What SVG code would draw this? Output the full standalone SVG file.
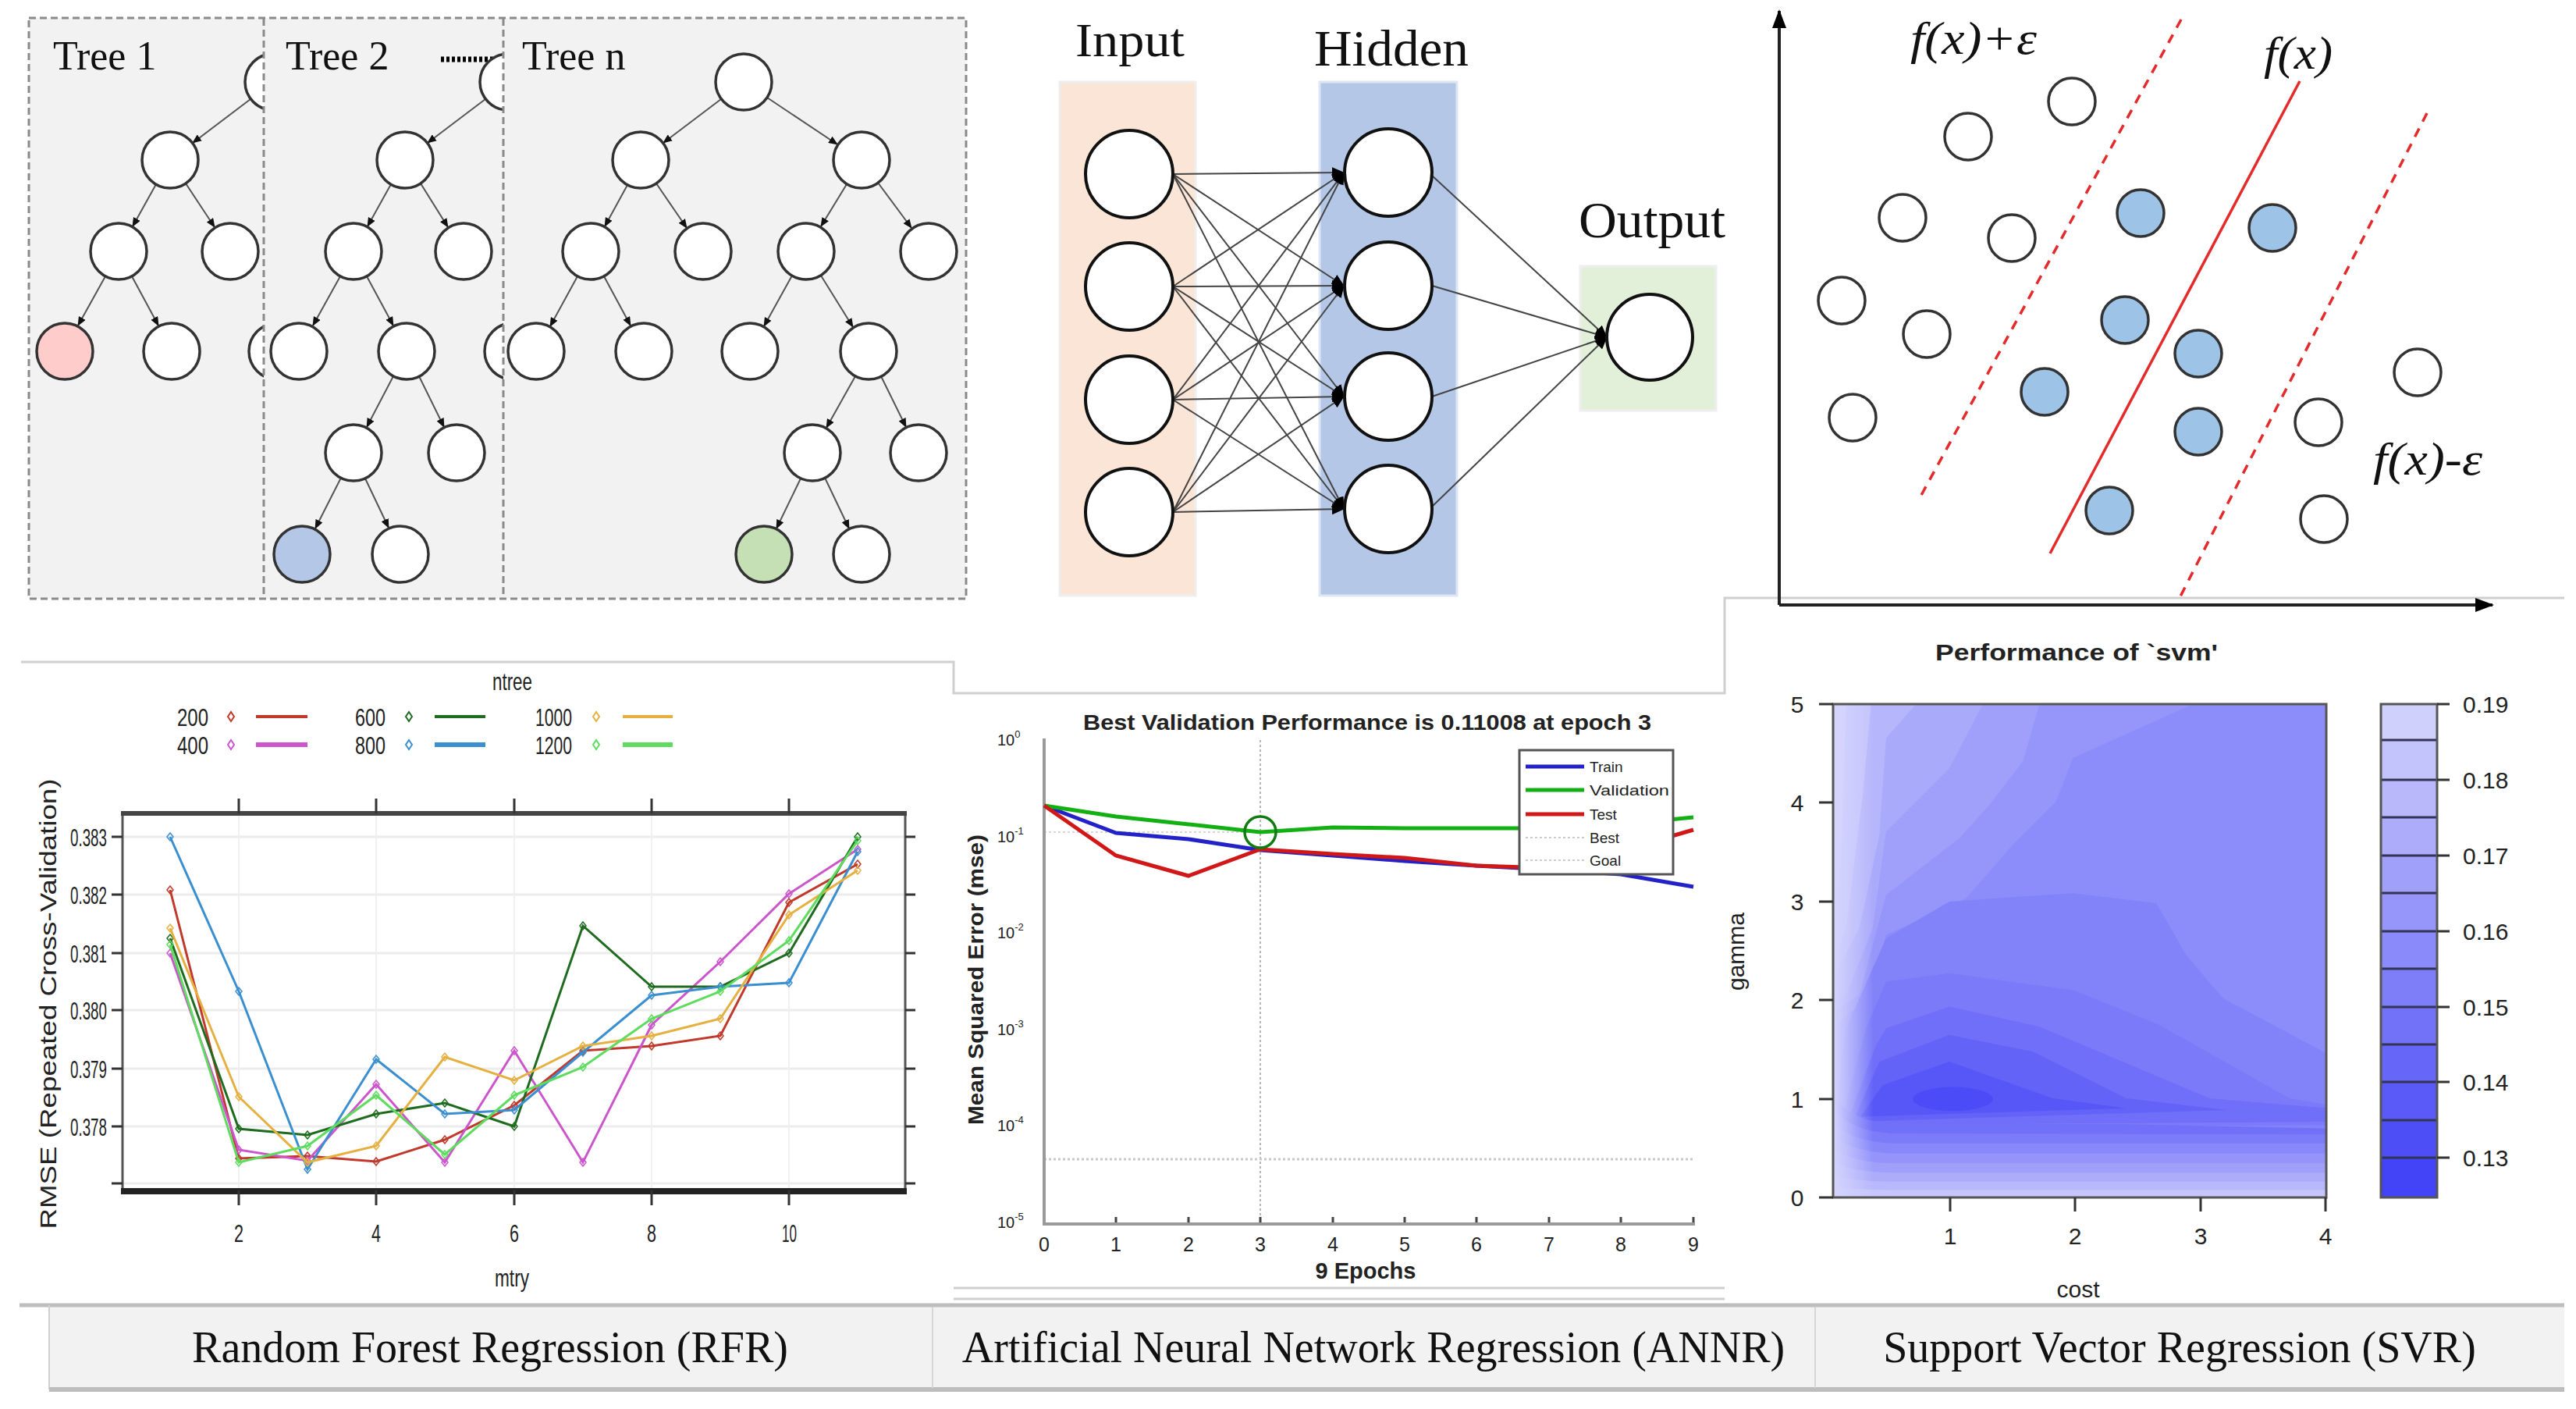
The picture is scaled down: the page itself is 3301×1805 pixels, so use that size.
<svg xmlns="http://www.w3.org/2000/svg" width="3301" height="1805" viewBox="0 0 3301 1805">
<style>
.serif{font-family:"Liberation Serif","Times New Roman",serif;fill:#111}
.sans{font-family:"Liberation Sans",Arial,sans-serif;fill:#222}
.tn{fill:#fff;stroke:#333;stroke-width:3.5}
.te{stroke:#555;stroke-width:2;fill:none;marker-end:url(#ahs)}
.ae{stroke:#444;stroke-width:2;fill:none;marker-end:url(#ah)}
.an{fill:#fff;stroke:#111;stroke-width:4}
.sc{fill:#fff;stroke:#333;stroke-width:3.5}
.sb{fill:#9dc3e6;stroke:#333;stroke-width:3.5}
.frame{stroke:#cfcfcf;stroke-width:3;fill:none}
.grid{stroke:#ececec;stroke-width:3}
.rf{fill:none;stroke-width:3}
.tick{stroke:#333;stroke-width:3}
</style>
<defs>
<marker id="ah" markerUnits="userSpaceOnUse" markerWidth="16" markerHeight="14" refX="15" refY="7" orient="auto"><path d="M0,0 L16,7 L0,14 z" fill="#000"/></marker>
<marker id="ahs" markerUnits="userSpaceOnUse" markerWidth="12" markerHeight="10" refX="11" refY="5" orient="auto"><path d="M0,0 L12,5 L0,10 z" fill="#111"/></marker>
<marker id="axa" markerUnits="userSpaceOnUse" markerWidth="24" markerHeight="18" refX="22" refY="9" orient="auto"><path d="M0,0 L24,9 L0,18 z" fill="#000"/></marker>
<marker id="m1" markerUnits="userSpaceOnUse" markerWidth="10" markerHeight="12" refX="5" refY="6"><path d="M5,1 L9,6 L5,11 L1,6 z" fill="none" stroke="#c0392b" stroke-width="1.5"/></marker>
<marker id="m2" markerUnits="userSpaceOnUse" markerWidth="10" markerHeight="12" refX="5" refY="6"><path d="M5,1 L9,6 L5,11 L1,6 z" fill="none" stroke="#cc55cc" stroke-width="1.5"/></marker>
<marker id="m3" markerUnits="userSpaceOnUse" markerWidth="10" markerHeight="12" refX="5" refY="6"><path d="M5,1 L9,6 L5,11 L1,6 z" fill="none" stroke="#1f6b1f" stroke-width="1.5"/></marker>
<marker id="m4" markerUnits="userSpaceOnUse" markerWidth="10" markerHeight="12" refX="5" refY="6"><path d="M5,1 L9,6 L5,11 L1,6 z" fill="none" stroke="#3a8fd0" stroke-width="1.5"/></marker>
<marker id="m5" markerUnits="userSpaceOnUse" markerWidth="10" markerHeight="12" refX="5" refY="6"><path d="M5,1 L9,6 L5,11 L1,6 z" fill="none" stroke="#e6b040" stroke-width="1.5"/></marker>
<marker id="m6" markerUnits="userSpaceOnUse" markerWidth="10" markerHeight="12" refX="5" refY="6"><path d="M5,1 L9,6 L5,11 L1,6 z" fill="none" stroke="#5fdc5f" stroke-width="1.5"/></marker>
<clipPath id="c1"><rect x="37" y="23" width="301" height="744"/></clipPath>
<clipPath id="c2"><rect x="338" y="23" width="307" height="744"/></clipPath>
<clipPath id="cs"><rect x="2349" y="902" width="632" height="632"/></clipPath>
<linearGradient id="gl" x1="0" y1="0" x2="1" y2="0"><stop offset="0" stop-color="#d4d4fd"/><stop offset="1" stop-color="#d4d4fd" stop-opacity="0"/></linearGradient>
</defs>

<rect width="3301" height="1805" fill="#fff"/>

<!-- layout frame lines -->
<g id="layout">
<path class="frame" d="M27,848 H1222 V888 H2210 V766 H3286"/>
<path class="frame" d="M1222,1650 H2210 M1222,1664 H2210"/>
<rect x="63" y="1672" width="3223" height="108" fill="#f2f2f2"/>
<path d="M25,1672 H3286" stroke="#bdbdbd" stroke-width="5"/>
<path d="M63,1672 V1780" stroke="#d0d0d0" stroke-width="2"/>
<path d="M63,1780 H3286" stroke="#bdbdbd" stroke-width="6"/>
<path d="M1195,1674 V1778 M2326,1674 V1778" stroke="#d6d6d6" stroke-width="2"/>
</g>

<!-- ===== Random forest trees ===== -->
<g id="rf-trees">
<rect x="37" y="23" width="1201" height="744" fill="#f2f2f2"/>
<rect x="37" y="23" width="1201" height="744" fill="none" stroke="#8a8a8a" stroke-width="3" stroke-dasharray="9,5"/>
<text class="serif" x="68" y="89" font-size="52">Tree 1</text>
<text class="serif" x="366" y="89" font-size="52">Tree 2</text>
<text class="serif" x="669" y="89" font-size="52">Tree n</text>
<path d="M565,76 H645" stroke="#000" stroke-width="7" stroke-dasharray="4,3"/>
</g>

<g id="tree-edges">
<line class="te" x1="321" y1="127" x2="247" y2="183"/>
<line class="te" x1="200" y1="236" x2="170" y2="290"/>
<line class="te" x1="238" y1="235" x2="275" y2="291"/>
<line class="te" x1="135" y1="354" x2="100" y2="417"/>
<line class="te" x1="169" y1="354" x2="203" y2="417"/>
<line class="te" x1="622" y1="127" x2="548" y2="183"/>
<line class="te" x1="501" y1="236" x2="471" y2="290"/>
<line class="te" x1="539" y1="235" x2="574" y2="291"/>
<line class="te" x1="436" y1="354" x2="401" y2="417"/>
<line class="te" x1="470" y1="354" x2="504" y2="417"/>
<line class="te" x1="504" y1="482" x2="470" y2="547"/>
<line class="te" x1="537" y1="482" x2="569" y2="547"/>
<line class="te" x1="437" y1="612" x2="404" y2="677"/>
<line class="te" x1="468" y1="613" x2="498" y2="676"/>
<line class="te" x1="924" y1="127" x2="850" y2="183"/>
<line class="te" x1="983" y1="125" x2="1073" y2="185"/>
<line class="te" x1="804" y1="237" x2="775" y2="290"/>
<line class="te" x1="841" y1="235" x2="880" y2="292"/>
<line class="te" x1="1085" y1="236" x2="1052" y2="290"/>
<line class="te" x1="1125" y1="234" x2="1168" y2="292"/>
<line class="te" x1="740" y1="354" x2="705" y2="418"/>
<line class="te" x1="774" y1="354" x2="808" y2="417"/>
<line class="te" x1="1015" y1="353" x2="979" y2="418"/>
<line class="te" x1="1052" y1="353" x2="1093" y2="419"/>
<line class="te" x1="1096" y1="482" x2="1059" y2="548"/>
<line class="te" x1="1129" y1="482" x2="1161" y2="547"/>
<line class="te" x1="1026" y1="613" x2="995" y2="677"/>
<line class="te" x1="1057" y1="612" x2="1088" y2="677"/>
</g>

<g id="tree-nodes">
<g clip-path="url(#c1)"><circle class="tn" cx="350" cy="105" r="36"/><circle class="tn" cx="355" cy="450" r="36"/></g>
<g clip-path="url(#c2)"><circle class="tn" cx="651" cy="105" r="36"/><circle class="tn" cx="657" cy="450" r="36"/></g>
<circle class="tn" cx="218" cy="205" r="36"/>
<circle class="tn" cx="152" cy="322" r="36"/>
<circle class="tn" cx="295" cy="322" r="36"/>
<circle class="tn" cx="83" cy="450" r="36" style="fill:#ffcccc"/>
<circle class="tn" cx="220" cy="450" r="36"/>
<circle class="tn" cx="519" cy="205" r="36"/>
<circle class="tn" cx="453" cy="322" r="36"/>
<circle class="tn" cx="594" cy="322" r="36"/>
<circle class="tn" cx="383" cy="450" r="36"/>
<circle class="tn" cx="521" cy="450" r="36"/>
<circle class="tn" cx="453" cy="580" r="36"/>
<circle class="tn" cx="585" cy="580" r="36"/>
<circle class="tn" cx="387" cy="710" r="36" style="fill:#b4c7e7"/>
<circle class="tn" cx="513" cy="710" r="36"/>
<circle class="tn" cx="953" cy="105" r="36"/>
<circle class="tn" cx="821" cy="205" r="36"/>
<circle class="tn" cx="1104" cy="205" r="36"/>
<circle class="tn" cx="757" cy="322" r="36"/>
<circle class="tn" cx="901" cy="322" r="36"/>
<circle class="tn" cx="1033" cy="322" r="36"/>
<circle class="tn" cx="1190" cy="322" r="36"/>
<circle class="tn" cx="687" cy="450" r="36"/>
<circle class="tn" cx="825" cy="450" r="36"/>
<circle class="tn" cx="961" cy="450" r="36"/>
<circle class="tn" cx="1113" cy="450" r="36"/>
<circle class="tn" cx="1041" cy="580" r="36"/>
<circle class="tn" cx="1177" cy="580" r="36"/>
<circle class="tn" cx="979" cy="710" r="36" style="fill:#c5e0b4"/>
<circle class="tn" cx="1104" cy="710" r="36"/>
</g>
<path d="M338,24 V766 M645,24 V766" stroke="#8a8a8a" stroke-width="3" stroke-dasharray="9,5"/>

<!-- ===== ANN ===== -->
<g id="ann-layers">
<rect x="1358" y="105" width="174" height="658" fill="#fbe5d6" stroke="#eeeeee" stroke-width="3"/>
<rect x="1691" y="105" width="176" height="658" fill="#b4c7e7" stroke="#dde6f3" stroke-width="3"/>
<rect x="2025" y="341" width="174" height="185" fill="#e2f0d9" stroke="#eeeeee" stroke-width="3"/>
<text class="serif" x="1378" y="72" font-size="62" textLength="140" lengthAdjust="spacingAndGlyphs">Input</text>
<text class="serif" x="1684" y="84" font-size="66" textLength="198" lengthAdjust="spacingAndGlyphs">Hidden</text>
<text class="serif" x="2023" y="304" font-size="66" textLength="188" lengthAdjust="spacingAndGlyphs">Output</text>
</g>
<g id="ann-connectors">
<line class="ae" x1="1503" y1="223" x2="1722" y2="221"/>
<line class="ae" x1="1503" y1="223" x2="1722" y2="366"/>
<line class="ae" x1="1503" y1="223" x2="1722" y2="508"/>
<line class="ae" x1="1503" y1="223" x2="1722" y2="652"/>
<line class="ae" x1="1503" y1="367" x2="1722" y2="221"/>
<line class="ae" x1="1503" y1="367" x2="1722" y2="366"/>
<line class="ae" x1="1503" y1="367" x2="1722" y2="508"/>
<line class="ae" x1="1503" y1="367" x2="1722" y2="652"/>
<line class="ae" x1="1503" y1="512" x2="1722" y2="221"/>
<line class="ae" x1="1503" y1="512" x2="1722" y2="366"/>
<line class="ae" x1="1503" y1="512" x2="1722" y2="508"/>
<line class="ae" x1="1503" y1="512" x2="1722" y2="652"/>
<line class="ae" x1="1503" y1="656" x2="1722" y2="221"/>
<line class="ae" x1="1503" y1="656" x2="1722" y2="366"/>
<line class="ae" x1="1503" y1="656" x2="1722" y2="508"/>
<line class="ae" x1="1503" y1="656" x2="1722" y2="652"/>
<line class="ae" x1="1834" y1="224" x2="2059" y2="432"/>
<line class="ae" x1="1835" y1="366" x2="2059" y2="432"/>
<line class="ae" x1="1835" y1="508" x2="2059" y2="432"/>
<line class="ae" x1="1834" y1="650" x2="2059" y2="432"/>
</g>
<g id="ann-nodes">
<circle class="an" cx="1447" cy="223" r="56"/>
<circle class="an" cx="1447" cy="367" r="56"/>
<circle class="an" cx="1447" cy="512" r="56"/>
<circle class="an" cx="1447" cy="656" r="56"/>
<circle class="an" cx="1779" cy="221" r="56"/>
<circle class="an" cx="1779" cy="366" r="56"/>
<circle class="an" cx="1779" cy="508" r="56"/>
<circle class="an" cx="1779" cy="652" r="56"/>
<circle class="an" cx="2114" cy="432" r="55"/>
</g>

<!-- ===== SVR scatter ===== -->
<g id="svr-scatter">
<line x1="2280" y1="775" x2="2280" y2="14" stroke="#222" stroke-width="4" marker-end="url(#axa)"/>
<line x1="2280" y1="775" x2="3194" y2="775" stroke="#222" stroke-width="4" marker-end="url(#axa)"/>
<line x1="2947" y1="104" x2="2627" y2="709" stroke="#e32b2b" stroke-width="3.5"/>
<line x1="2795" y1="25" x2="2460" y2="638" stroke="#e32b2b" stroke-width="3.5" stroke-dasharray="12,10"/>
<line x1="3110" y1="145" x2="2794" y2="764" stroke="#e32b2b" stroke-width="3.5" stroke-dasharray="12,10"/>
<text class="serif" x="2448" y="69" font-size="60" font-style="italic" textLength="162" lengthAdjust="spacingAndGlyphs">f(x)+ε</text>
<text class="serif" x="2901" y="88" font-size="60" font-style="italic" textLength="88" lengthAdjust="spacingAndGlyphs">f(x)</text>
<text class="serif" x="3041" y="608" font-size="60" font-style="italic" textLength="140" lengthAdjust="spacingAndGlyphs">f(x)-ε</text>
<circle class="sc" cx="2655" cy="130" r="30"/>
<circle class="sc" cx="2522" cy="175" r="30"/>
<circle class="sc" cx="2438" cy="279" r="30"/>
<circle class="sc" cx="2578" cy="305" r="30"/>
<circle class="sc" cx="2360" cy="385" r="30"/>
<circle class="sc" cx="2469" cy="428" r="30"/>
<circle class="sc" cx="2374" cy="535" r="30"/>
<circle class="sc" cx="3098" cy="477" r="30"/>
<circle class="sc" cx="2971" cy="541" r="30"/>
<circle class="sc" cx="2978" cy="665" r="30"/>
<circle class="sb" cx="2743" cy="273" r="30"/>
<circle class="sb" cx="2912" cy="292" r="30"/>
<circle class="sb" cx="2723" cy="410" r="30"/>
<circle class="sb" cx="2817" cy="453" r="30"/>
<circle class="sb" cx="2620" cy="502" r="30"/>
<circle class="sb" cx="2817" cy="553" r="30"/>
<circle class="sb" cx="2703" cy="654" r="30"/>
</g>

<!-- ===== RF tuning chart ===== -->
<g id="rf-chart">
<text class="sans" x="631" y="884" font-size="32" textLength="51" lengthAdjust="spacingAndGlyphs">ntree</text>
<g font-size="32" class="sans">
<text x="227" y="930" textLength="40" lengthAdjust="spacingAndGlyphs">200</text>
<text x="227" y="966" textLength="40" lengthAdjust="spacingAndGlyphs">400</text>
<text x="455" y="930" textLength="39" lengthAdjust="spacingAndGlyphs">600</text>
<text x="455" y="966" textLength="39" lengthAdjust="spacingAndGlyphs">800</text>
<text x="686" y="930" textLength="47" lengthAdjust="spacingAndGlyphs">1000</text>
<text x="686" y="966" textLength="47" lengthAdjust="spacingAndGlyphs">1200</text>
</g>
<path d="M296,912 l4,6 l-4,6 l-4,-6 z" fill="none" stroke="#c0392b" stroke-width="2"/>
<path d="M296,948 l4,6 l-4,6 l-4,-6 z" fill="none" stroke="#cc55cc" stroke-width="2"/>
<path d="M524,912 l4,6 l-4,6 l-4,-6 z" fill="none" stroke="#1f6b1f" stroke-width="2"/>
<path d="M524,948 l4,6 l-4,6 l-4,-6 z" fill="none" stroke="#3a8fd0" stroke-width="2"/>
<path d="M764,912 l4,6 l-4,6 l-4,-6 z" fill="none" stroke="#e6b040" stroke-width="2"/>
<path d="M764,948 l4,6 l-4,6 l-4,-6 z" fill="none" stroke="#5fdc5f" stroke-width="2"/>
<path d="M328,918 H394" stroke="#c0392b" stroke-width="4"/>
<path d="M328,954 H394" stroke="#cc55cc" stroke-width="6"/>
<path d="M557,918 H622" stroke="#1f6b1f" stroke-width="4"/>
<path d="M557,954 H622" stroke="#3a8fd0" stroke-width="6"/>
<path d="M798,918 H862" stroke="#e6b040" stroke-width="4"/>
<path d="M798,954 H862" stroke="#5fdc5f" stroke-width="6"/>

<rect x="157" y="1042" width="1003" height="483" fill="#fff"/>
<path class="grid" d="M157,1072 H1160 M157,1146 H1160 M157,1221 H1160 M157,1294 H1160 M157,1369 H1160 M157,1443 H1160 M157,1516 H1160"/>
<path d="M306,1042 V1525 M482,1042 V1525 M659,1042 V1525 M835,1042 V1525 M1011,1042 V1525" stroke="#f0f0f0" stroke-width="2"/>
<polyline class="rf" stroke="#c0392b" marker-start="url(#m1)" marker-mid="url(#m1)" marker-end="url(#m1)" points="218,1140 306,1484 394,1481 482,1488 570,1460 659,1416 747,1346 835,1340 923,1327 1011,1156 1099,1107"/>
<polyline class="rf" stroke="#cc55cc" marker-start="url(#m2)" marker-mid="url(#m2)" marker-end="url(#m2)" points="218,1221 306,1473 394,1487 482,1389 570,1489 659,1346 747,1489 835,1313 923,1232 1011,1145 1099,1088"/>
<polyline class="rf" stroke="#1f6b1f" marker-start="url(#m3)" marker-mid="url(#m3)" marker-end="url(#m3)" points="218,1202 306,1446 394,1454 482,1427 570,1413 659,1443 747,1186 835,1264 923,1264 1011,1221 1099,1072"/>
<polyline class="rf" stroke="#3a8fd0" marker-start="url(#m4)" marker-mid="url(#m4)" marker-end="url(#m4)" points="218,1072 306,1270 394,1498 482,1357 570,1427 659,1422 747,1348 835,1275 923,1264 1011,1259 1099,1091"/>
<polyline class="rf" stroke="#e6b040" marker-start="url(#m5)" marker-mid="url(#m5)" marker-end="url(#m5)" points="218,1189 306,1405 394,1489 482,1468 570,1354 659,1384 747,1340 835,1327 923,1305 1011,1172 1099,1115"/>
<polyline class="rf" stroke="#5fdc5f" marker-start="url(#m6)" marker-mid="url(#m6)" marker-end="url(#m6)" points="218,1210 306,1489 394,1468 482,1403 570,1479 659,1403 747,1367 835,1305 923,1270 1011,1205 1099,1077"/>
<rect x="157" y="1042" width="1003" height="483" fill="none" stroke="#555" stroke-width="3"/>
<path d="M155,1042 H1162" stroke="#444" stroke-width="6"/>
<path d="M155,1526 H1162" stroke="#222" stroke-width="8"/>
<path class="tick" d="M306,1023 V1042 M482,1023 V1042 M659,1023 V1042 M835,1023 V1042 M1011,1023 V1042 M306,1525 V1544 M482,1525 V1544 M659,1525 V1544 M835,1525 V1544 M1011,1525 V1544"/>
<path class="tick" d="M143,1072 H157 M143,1146 H157 M143,1221 H157 M143,1294 H157 M143,1369 H157 M143,1443 H157 M143,1516 H157 M1160,1072 H1173 M1160,1146 H1173 M1160,1221 H1173 M1160,1294 H1173 M1160,1369 H1173 M1160,1443 H1173 M1160,1516 H1173"/>
<g class="sans" font-size="32">
<text x="90" y="1084" textLength="47" lengthAdjust="spacingAndGlyphs">0.383</text>
<text x="90" y="1158" textLength="47" lengthAdjust="spacingAndGlyphs">0.382</text>
<text x="90" y="1233" textLength="47" lengthAdjust="spacingAndGlyphs">0.381</text>
<text x="90" y="1306" textLength="47" lengthAdjust="spacingAndGlyphs">0.380</text>
<text x="90" y="1381" textLength="47" lengthAdjust="spacingAndGlyphs">0.379</text>
<text x="90" y="1455" textLength="47" lengthAdjust="spacingAndGlyphs">0.378</text>
<text x="300" y="1591" textLength="12" lengthAdjust="spacingAndGlyphs">2</text>
<text x="476" y="1591" textLength="12" lengthAdjust="spacingAndGlyphs">4</text>
<text x="653" y="1591" textLength="12" lengthAdjust="spacingAndGlyphs">6</text>
<text x="829" y="1591" textLength="12" lengthAdjust="spacingAndGlyphs">8</text>
<text x="1002" y="1591" textLength="19" lengthAdjust="spacingAndGlyphs">10</text>
<text x="634" y="1648" textLength="44" lengthAdjust="spacingAndGlyphs">mtry</text>
<text transform="translate(72,1286) rotate(-90)" text-anchor="middle" font-size="30" textLength="577" lengthAdjust="spacingAndGlyphs">RMSE (Repeated Cross-Validation)</text>
</g>
</g>

<!-- ===== ANN performance chart ===== -->
<g id="ann-chart">
<text class="sans" x="1752" y="935" font-size="27" font-weight="bold" text-anchor="middle" textLength="728" lengthAdjust="spacingAndGlyphs">Best Validation Performance is 0.11008 at epoch 3</text>
<path d="M1615,948 V1566" stroke="#b8b8b8" stroke-width="2" stroke-dasharray="3,3"/>
<path d="M1338,1066 H1615" stroke="#d6d6d6" stroke-width="2" stroke-dasharray="3,3"/>
<path d="M1338,1485 H2170" stroke="#c8c8c8" stroke-width="3" stroke-dasharray="3,3"/>
<path d="M1338,946 V1568 H2172" stroke="#9a9a9a" stroke-width="4" fill="none"/>
<path d="M1430,1566 v-7 M1523,1566 v-7 M1615,1566 v-7 M1708,1566 v-7 M1800,1566 v-7 M1892,1566 v-7 M1985,1566 v-7 M2077,1566 v-7 M2170,1566 v-7" stroke="#444" stroke-width="3"/>
<polyline fill="none" stroke="#2222c8" stroke-width="5" points="1338,1032 1430,1067 1523,1075 1615,1089 1708,1096 1800,1103 1892,1109 1985,1114 2077,1120 2170,1136"/>
<polyline fill="none" stroke="#12b012" stroke-width="5" points="1338,1032 1430,1046 1523,1056 1615,1066 1708,1060 1800,1061 1892,1061 1985,1061 2077,1056 2170,1047"/>
<polyline fill="none" stroke="#d01818" stroke-width="5" points="1338,1032 1430,1096 1523,1122 1615,1088 1708,1094 1800,1099 1892,1109 1985,1112 2077,1090 2170,1063"/>
<circle cx="1615" cy="1066" r="20" fill="none" stroke="#117a11" stroke-width="3.5"/>
<rect x="1947" y="961" width="197" height="159" fill="#fff" stroke="#555" stroke-width="3"/>
<path d="M1955,982 H2030" stroke="#2222c8" stroke-width="5"/>
<path d="M1955,1012 H2030" stroke="#12b012" stroke-width="5"/>
<path d="M1955,1043 H2030" stroke="#d01818" stroke-width="5"/>
<path d="M1955,1073 H2030" stroke="#cccccc" stroke-width="2" stroke-dasharray="3,3"/>
<path d="M1955,1102 H2030" stroke="#cccccc" stroke-width="2" stroke-dasharray="3,3"/>
<g class="sans" font-size="19">
<text x="2037" y="989">Train</text>
<text x="2037" y="1019" textLength="102" lengthAdjust="spacingAndGlyphs">Validation</text>
<text x="2037" y="1050">Test</text>
<text x="2037" y="1080">Best</text>
<text x="2037" y="1109">Goal</text>
</g>
<g class="sans" font-size="20">
<text x="1278" y="955">10<tspan font-size="13" dy="-10">0</tspan></text>
<text x="1278" y="1079">10<tspan font-size="13" dy="-10">-1</tspan></text>
<text x="1278" y="1202">10<tspan font-size="13" dy="-10">-2</tspan></text>
<text x="1278" y="1326">10<tspan font-size="13" dy="-10">-3</tspan></text>
<text x="1278" y="1449">10<tspan font-size="13" dy="-10">-4</tspan></text>
<text x="1278" y="1573">10<tspan font-size="13" dy="-10">-5</tspan></text>
</g>
<g class="sans" font-size="25" text-anchor="middle">
<text x="1338" y="1603">0</text><text x="1430" y="1603">1</text><text x="1523" y="1603">2</text><text x="1615" y="1603">3</text><text x="1708" y="1603">4</text><text x="1800" y="1603">5</text><text x="1892" y="1603">6</text><text x="1985" y="1603">7</text><text x="2077" y="1603">8</text><text x="2170" y="1603">9</text>
</g>
<text class="sans" x="1750" y="1638" font-size="29" font-weight="bold" text-anchor="middle">9 Epochs</text>
<text class="sans" transform="translate(1260,1255) rotate(-90)" font-size="27" font-weight="bold" text-anchor="middle" textLength="372" lengthAdjust="spacingAndGlyphs">Mean Squared Error  (mse)</text>
</g>

<!-- ===== SVM performance contour ===== -->
<g id="svm-chart">
<text class="sans" x="2661" y="846" font-size="30" font-weight="bold" text-anchor="middle" textLength="362" lengthAdjust="spacingAndGlyphs">Performance of `svm'</text>
<g clip-path="url(#cs)">
<rect x="2349" y="902" width="632" height="632" fill="#8c8cfa"/>
<g transform="matrix(0.4273 0 0 0.4273 2340 890)">
<path fill="#9696fa" d="M22,28 L1100,28 L740,190 L690,320 L560,450 L420,610 L180,720 L130,900 L22,1000 Z"/>
<path fill="#a0a0fb" d="M22,28 L640,28 L590,200 L490,330 L400,430 L180,600 L100,900 L22,950 Z"/>
<path fill="#aaaafb" d="M22,28 L470,28 L370,220 L180,410 L140,700 L60,900 L22,920 Z"/>
<path fill="#b6b6fc" d="M22,28 L270,28 L180,130 L160,420 L100,700 L22,850 Z"/>
<path fill="#c4c4fc" d="M22,28 L135,28 L110,300 L60,700 L22,800 Z"/>
<path fill="#d0d0fd" d="M22,28 L60,28 L45,500 L22,700 Z"/>
<path fill="#8383f9" d="M22,1300 L60,1000 L180,730 L370,620 L740,595 L990,625 L1080,780 L1190,910 L1510,1080 L1510,1300 Z"/>
<path fill="#7b7bf9" d="M40,1300 L120,1000 L180,860 L370,835 L740,885 L1000,990 L1390,1210 L1510,1230 L1510,1290 Z"/>
<path fill="#6f6ff9" d="M60,1290 L150,1050 L180,1000 L370,935 L640,995 L1150,1210 L1510,1240 L1510,1280 Z"/>
<path fill="#6363f8" d="M80,1280 L160,1100 L370,1020 L620,1070 L900,1210 L1200,1245 L80,1280 Z"/>
<path fill="#5757f8" d="M100,1270 L170,1170 L370,1100 L680,1210 L900,1240 L100,1265 Z"/>
<ellipse fill="#4b4bf7" cx="380" cy="1212" rx="120" ry="36"/>
<path fill="#7070f8" d="M22,1520 L22,1200 Q70,1280 200,1285 L900,1288 L1510,1300 L1510,1520 Z"/>
<path fill="#7c7cf9" d="M22,1520 L22,1240 Q70,1310 200,1315 L1510,1318 L1510,1520 Z"/>
<path fill="#8888fa" d="M22,1520 L22,1280 Q70,1340 200,1345 L1510,1345 L1510,1520 Z"/>
<path fill="#9494fa" d="M22,1520 L22,1320 Q70,1370 200,1375 L1510,1375 L1510,1520 Z"/>
<path fill="#a0a0fb" d="M22,1520 L22,1360 Q70,1400 200,1405 L1510,1405 L1510,1520 Z"/>
<path fill="#acacfb" d="M22,1520 L22,1400 Q70,1430 200,1433 L1510,1433 L1510,1520 Z"/>
<path fill="#b8b8fc" d="M22,1520 L22,1440 Q70,1458 200,1460 L1510,1460 L1510,1520 Z"/>
<path fill="#c6c6fc" d="M22,1520 L22,1475 Q70,1483 200,1485 L1510,1485 L1510,1520 Z"/>
<rect x="22" y="28" width="120" height="1490" fill="url(#gl)"/>
</g>
</g>
<rect x="2349" y="902" width="632" height="632" fill="none" stroke="#555" stroke-width="3"/>
<path class="tick" d="M2331,902 H2349 M2331,1028 H2349 M2331,1155 H2349 M2331,1281 H2349 M2331,1408 H2349 M2331,1534 H2349 M2499,1534 V1552 M2659,1534 V1552 M2820,1534 V1552 M2980,1534 V1552"/>
<g class="sans" font-size="30" text-anchor="middle">
<text x="2303" y="913">5</text><text x="2303" y="1039">4</text><text x="2303" y="1166">3</text><text x="2303" y="1292">2</text><text x="2303" y="1419">1</text><text x="2303" y="1545">0</text>
<text x="2499" y="1594">1</text><text x="2659" y="1594">2</text><text x="2820" y="1594">3</text><text x="2980" y="1594">4</text>
<text x="2663" y="1662">cost</text>
<text transform="translate(2235,1219) rotate(-90)">gamma</text>
</g>
<g id="colorbar">
<rect x="3051" y="902" width="72" height="46" fill="#d0d0fc"/>
<rect x="3051" y="948" width="72" height="51" fill="#c4c4fc"/>
<rect x="3051" y="999" width="72" height="48" fill="#b8b8fb"/>
<rect x="3051" y="1047" width="72" height="49" fill="#acacfb"/>
<rect x="3051" y="1096" width="72" height="48" fill="#a0a0fb"/>
<rect x="3051" y="1144" width="72" height="49" fill="#9595fa"/>
<rect x="3051" y="1193" width="72" height="48" fill="#8a8afa"/>
<rect x="3051" y="1241" width="72" height="49" fill="#7e7ef9"/>
<rect x="3051" y="1290" width="72" height="48" fill="#7272f9"/>
<rect x="3051" y="1338" width="72" height="48" fill="#6666f8"/>
<rect x="3051" y="1386" width="72" height="49" fill="#5a5af8"/>
<rect x="3051" y="1435" width="72" height="48" fill="#4e4ef7"/>
<rect x="3051" y="1483" width="72" height="51" fill="#4343f7"/>
<path d="M3051,948 H3123 M3051,999 H3123 M3051,1047 H3123 M3051,1096 H3123 M3051,1144 H3123 M3051,1193 H3123 M3051,1241 H3123 M3051,1290 H3123 M3051,1338 H3123 M3051,1386 H3123 M3051,1435 H3123 M3051,1483 H3123" stroke="#333355" stroke-width="3"/>
<rect x="3051" y="902" width="72" height="632" fill="none" stroke="#555" stroke-width="3"/>
<path class="tick" d="M3123,902 H3139 M3123,999 H3139 M3123,1096 H3139 M3123,1193 H3139 M3123,1290 H3139 M3123,1386 H3139 M3123,1483 H3139"/>
<g class="sans" font-size="30">
<text x="3156" y="913">0.19</text>
<text x="3156" y="1010">0.18</text>
<text x="3156" y="1107">0.17</text>
<text x="3156" y="1204">0.16</text>
<text x="3156" y="1301">0.15</text>
<text x="3156" y="1397">0.14</text>
<text x="3156" y="1494">0.13</text>
</g>
</g>
</g>

<!-- ===== Bottom labels ===== -->
<g id="labels">
<text class="serif" x="628" y="1745" font-size="56" text-anchor="middle">Random Forest Regression (RFR)</text>
<text class="serif" x="1760" y="1745" font-size="56" text-anchor="middle">Artificial Neural Network Regression (ANNR)</text>
<text class="serif" x="2793" y="1745" font-size="56" text-anchor="middle">Support Vector Regression (SVR)</text>
</g>
</svg>
